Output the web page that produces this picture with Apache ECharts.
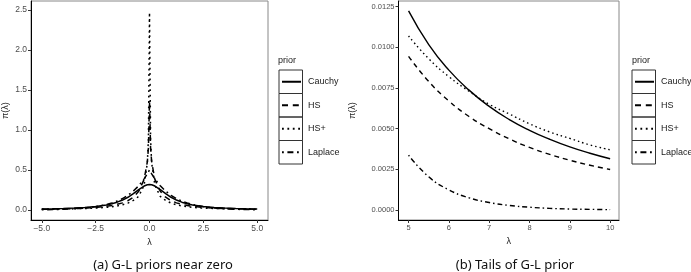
<!DOCTYPE html>
<html>
<head>
<meta charset="utf-8">
<script src="https://cdn.jsdelivr.net/npm/echarts@6/dist/echarts.min.js"></script>
<style>
  html, body { margin: 0; padding: 0; background: #fff; }
  #chart { width: 691px; height: 272px; }
</style>
</head>
<body>
<div id="chart"></div>
<script>
const priors = ['Cauchy', 'HS', 'HS+', 'Laplace'];

// (a) near zero
const nearX = [-5, -4.5, -4, -3.5, -3, -2.5, -2, -1.75, -1.5, -1.25, -1, -0.75, -0.5, -0.25, -0.1, -0.05, 0,
  0.05, 0.1, 0.25, 0.5, 0.75, 1, 1.25, 1.5, 1.75, 2, 2.5, 3, 3.5, 4, 4.5, 5];
const nearCauchy = [0.0122, 0.0150, 0.0187, 0.0240, 0.0318, 0.0439, 0.0637, 0.0788, 0.0979, 0.1242, 0.1592, 0.2037, 0.2546, 0.2996, 0.3152, 0.3175, 0.3183,
  0.3175, 0.3152, 0.2996, 0.2546, 0.2037, 0.1592, 0.1242, 0.0979, 0.0788, 0.0637, 0.0439, 0.0318, 0.0240, 0.0187, 0.0150, 0.0122];
const nearHS = [0.0095, 0.0115, 0.0143, 0.0182, 0.0238, 0.0324, 0.0459, 0.0565, 0.0714, 0.0892, 0.117, 0.1605, 0.2336, 0.3825, 0.603, 0.777, 1.36,
  0.777, 0.603, 0.3825, 0.2336, 0.1605, 0.117, 0.0892, 0.0714, 0.0565, 0.0459, 0.0324, 0.0238, 0.0182, 0.0143, 0.0115, 0.0095];
const nearHSplus = [0.0107, 0.0123, 0.0142, 0.0165, 0.0195, 0.024, 0.033, 0.040, 0.051, 0.065, 0.086, 0.12, 0.17, 0.31, 0.59, 0.89, 2.47,
  0.89, 0.59, 0.31, 0.17, 0.12, 0.086, 0.065, 0.051, 0.040, 0.033, 0.024, 0.0195, 0.0165, 0.0142, 0.0123, 0.0107];
const nearLaplace = [0.0034, 0.0056, 0.0092, 0.0151, 0.0249, 0.0410, 0.0677, 0.0869, 0.1116, 0.1433, 0.1839, 0.2362, 0.3033, 0.3894, 0.4524, 0.4756, 0.5,
  0.4756, 0.4524, 0.3894, 0.3033, 0.2362, 0.1839, 0.1433, 0.1116, 0.0869, 0.0677, 0.0410, 0.0249, 0.0151, 0.0092, 0.0056, 0.0034];

// (b) tails
const tailX = [5, 5.5, 6, 6.5, 7, 7.5, 8, 8.5, 9, 9.5, 10];
const tailCauchy = [0.01224, 0.01017, 0.00860, 0.00737, 0.00637, 0.00556, 0.00490, 0.00435, 0.00388, 0.00349, 0.00315];
const tailHS = [0.00945, 0.0079, 0.0067, 0.00575, 0.0050, 0.00437, 0.00385, 0.00342, 0.00306, 0.00275, 0.00249];
const tailHSplus = [0.0107, 0.0093, 0.0082, 0.0073, 0.0065, 0.0059, 0.0053, 0.0048, 0.0044, 0.0040, 0.0037];
const tailLaplace = [0.00337, 0.00204, 0.00124, 0.00075, 0.00046, 0.00028, 0.00017, 0.0001, 0.00006, 0.00004, 0.00002];

const nearXTicks = [-5, -2.5, 0, 2.5, 5];
const nearYTicks = [0, 0.5, 1, 1.5, 2, 2.5];
const tailXTicks = [5, 6, 7, 8, 9, 10];
const tailYTicks = [0, 0.0025, 0.005, 0.0075, 0.01, 0.0125];

const nearData = [nearCauchy, nearHS, nearHSplus, nearLaplace];
const tailData = [tailCauchy, tailHS, tailHSplus, tailLaplace];

var chart = echarts.init(document.getElementById('chart'));

const tickFont = 'Liberation Sans';
const dashFor = (name, k) => {
  if (name === 'HS') return [5 * k, 4 * k];
  if (name === 'HS+') return [1.5 * k, 3 * k];
  if (name === 'Laplace') return [1.5 * k, 3 * k, 5 * k, 3 * k];
  return 'solid';
};
const pairs = (xs, ys) => xs.map((x, i) => [x, ys[i]]);

const axisBase = (gridIndex, min, max, ticks, fmt, fontSize) => ({
  type: 'value',
  gridIndex,
  min,
  max,
  splitLine: { show: false },
  axisLine: { show: true, onZero: false, lineStyle: { color: '#000', width: 1 } },
  axisTick: { show: true, length: 3, customValues: ticks, lineStyle: { color: '#333' } },
  axisLabel: {
    customValues: ticks,
    formatter: fmt,
    color: '#4d4d4d',
    fontFamily: tickFont,
    fontSize,
    margin: 4
  }
});

const nameStyle = { color: '#1a1a1a', fontFamily: tickFont, fontSize: 9 };

const series = [];
priors.forEach((p, i) => {
  series.push({
    name: p, type: 'line', xAxisIndex: 0, yAxisIndex: 0,
    data: pairs(nearX, nearData[i]),
    symbol: 'none', showSymbol: false, smooth: false,
    itemStyle: { color: '#000' },
    lineStyle: { color: '#000', width: 1.5, type: dashFor(p, 1.2) },
    animation: false
  });
});
priors.forEach((p, i) => {
  series.push({
    name: p, type: 'line', xAxisIndex: 1, yAxisIndex: 1,
    data: pairs(tailX, tailData[i]),
    symbol: 'none', showSymbol: false, smooth: 0.5,
    itemStyle: { color: '#000' },
    lineStyle: { color: '#000', width: 1.4, type: dashFor(p, 1) },
    animation: false
  });
});

const keyBoxes = (x) => priors.map((p, i) => ({
  type: 'rect',
  shape: { x: x, y: 70 + i * 23.5, width: 23.5, height: 23.5 },
  style: { fill: 'none', stroke: '#333', lineWidth: 1 },
  z: 10
}));

const legendBase = (left) => ({
  data: priors,
  orient: 'vertical',
  left,
  top: 74.75,
  padding: 0,
  itemGap: 9.5,
  itemWidth: 19,
  itemHeight: 14,
  selectedMode: false,
  itemStyle: { color: 'rgba(0,0,0,0)', borderWidth: 0, opacity: 0 },
  textStyle: { fontFamily: tickFont, fontSize: 9, lineHeight: 14, height: 14, color: '#1a1a1a', padding: [0, 0, 0, 2] }
});

chart.setOption({
  animation: false,
  color: ['#000'],
  grid: [
    { left: 30.5, top: 1, width: 237.5, height: 219, show: true, borderColor: '#888', borderWidth: 1, backgroundColor: '#fff' },
    { left: 398.5, top: 1, width: 220.5, height: 219, show: true, borderColor: '#888', borderWidth: 1, backgroundColor: '#fff' }
  ],
  xAxis: [
    Object.assign(axisBase(0, -5.5, 5.5, nearXTicks, v => v.toFixed(1).replace('-', '\u2212'), 8.5), {
      name: 'λ', nameLocation: 'middle', nameGap: 13, nameTextStyle: nameStyle
    }),
    Object.assign(axisBase(1, 4.75, 10.22, tailXTicks, v => String(v), 7.5), {
      name: 'λ', nameLocation: 'middle', nameGap: 13, nameTextStyle: nameStyle
    })
  ],
  yAxis: [
    Object.assign(axisBase(0, -0.125, 2.6125, nearYTicks, v => v.toFixed(1), 8.5), {
      name: 'π(λ)', nameLocation: 'middle', nameGap: 21, nameTextStyle: nameStyle
    }),
    Object.assign(axisBase(1, -0.000615, 0.01285, tailYTicks, v => v.toFixed(4), 7.5), {
      name: 'π(λ)', nameLocation: 'middle', nameGap: 41, nameTextStyle: nameStyle
    })
  ],
  legend: [legendBase(281), legendBase(634)],
  graphic: [
    ...keyBoxes(279),
    ...keyBoxes(632),
    { type: 'text', left: 278, top: 56, style: { text: 'prior', fill: '#1a1a1a', font: '9px "Liberation Sans"' } },
    { type: 'text', left: 632, top: 56, style: { text: 'prior', fill: '#1a1a1a', font: '9px "Liberation Sans"' } },
    { type: 'text', x: 163, y: 265, style: { text: '(a) G-L priors near zero', fill: '#111', font: '13px "Noto Sans"', align: 'center', verticalAlign: 'middle' } },
    { type: 'text', x: 515, y: 265, style: { text: '(b) Tails of G-L prior', fill: '#111', font: '13px "Noto Sans"', align: 'center', verticalAlign: 'middle' } }
  ],
  series
});
</script>
</body>
</html>
